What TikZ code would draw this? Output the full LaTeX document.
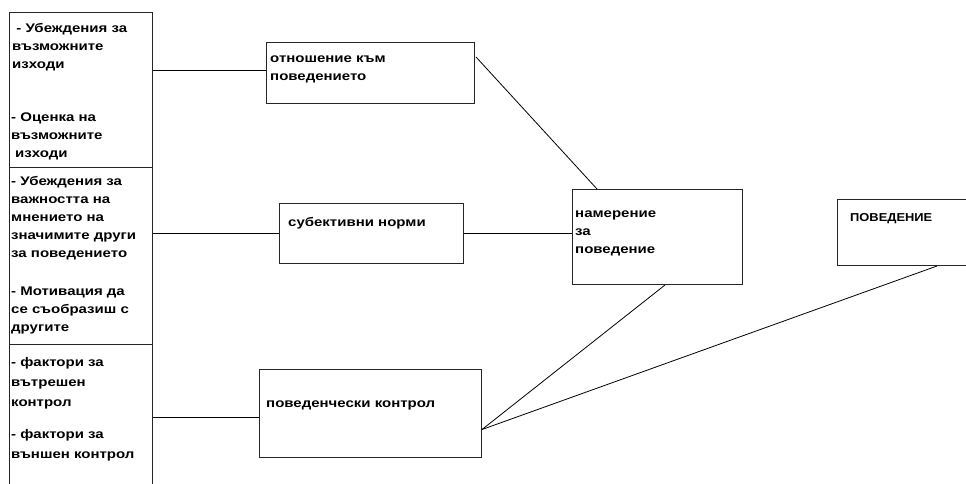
\documentclass[tikz,border=0pt]{standalone}
\usepackage{fontspec}
\newfontfamily\lblfont{Liberation Sans}[FakeStretch=1.2]
\newfontfamily\capsfont{Liberation Sans}[FakeStretch=1.12]
\usetikzlibrary{calc}
\tikzset{
  box/.style={draw=black!85, line width=1pt, fill=white, rectangle, inner sep=0pt, anchor=north west},
  conn/.style={draw=black, line width=0.8pt},
  txt/.style={inner sep=0pt, anchor=north west, align=left, font=\lblfont\bfseries\fontsize{12.5}{18}\selectfont},
  txtw/.style={txt, font=\lblfont\bfseries\fontsize{12.5}{20}\selectfont},
  txtc/.style={txt, font=\capsfont\bfseries\fontsize{11.5}{18}\selectfont}
}
\begin{document}
\begin{tikzpicture}[x=1pt,y=-1pt]
\useasboundingbox (0,0) rectangle (966,483);
\clip (0,0) rectangle (966,483);
\fill[white] (0,0) rectangle (966,483);
% left column
\node[box, minimum width=143pt, minimum height=155pt] (c1) at (9,12) {};
\node[box, minimum width=143pt, minimum height=177pt] (c2) at (9,167) {};
\node[box, minimum width=143pt, minimum height=150pt] (c3) at (9,344) {};
\node[txt] (t1a) at (12,23) {\ - Убеждения за\\възможните\\изходи};
\node[txt] (t1b) at (11,113) {- Оценка на\\възможните\\\hspace{4pt}изходи};
\node[txt] (t2a) at (11,176) {- Убеждения за\\важността на\\мнението на\\значимите други\\за поведението};
\node[txt] (t2b) at (11,287) {- Мотивация да\\се съобразиш с\\другите};
\node[txtw] (t3a) at (11,357) {- фактори за\\вътрешен\\контрол};
\node[txtw] (t3b) at (11,429) {- фактори за\\външен контрол};
% middle boxes
\node[box, minimum width=208pt, minimum height=61pt] (att) at (266,42) {};
\node[txt] (tatt) at (270,56) {отношение към\\поведението};
\node[box, minimum width=184pt, minimum height=60pt] (norm) at (279,203) {};
\node[txt] (tnorm) at (288,217) {субективни норми};
\node[box, minimum width=222pt, minimum height=88pt] (ctrl) at (259,369) {};
\node[txt] (tctrl) at (266,401) {поведенчески контрол};
% intention
\node[box, minimum width=170pt, minimum height=95pt] (int) at (572,189) {};
\node[txt] (tint) at (575,211) {намерение\\за\\поведение};
% behaviour
\node[box, minimum width=180pt, minimum height=66pt] (beh) at (837,199) {};
\node[txtc] (tbeh) at (850,213) {ПОВЕДЕНИЕ};
% connector points
\coordinate (attout) at ($(att.north east)+(1,15)$);
\coordinate (intin) at ($(int.north west)+(25,0)$);
\coordinate (ctrlout) at ($(ctrl.east)+(0,16)$);
\coordinate (intout) at ($(int.south west)+(93,0)$);
\coordinate (behin) at ($(beh.south west)+(100,0)$);
% connectors
\draw[conn] (c1.east |- 0,70) -- (att.west |- 0,70);
\draw[conn] (c2.east |- norm.west) -- (norm.west);
\draw[conn] (norm.east) -- (int.west |- norm.east);
\draw[conn] (c3.east |- 0,417) -- (ctrl.west |- 0,417);
\draw[conn] (attout) -- (intin);
\draw[conn] (ctrlout) -- (intout);
\draw[conn] (ctrlout) -- (behin);
\end{tikzpicture}
\end{document}
